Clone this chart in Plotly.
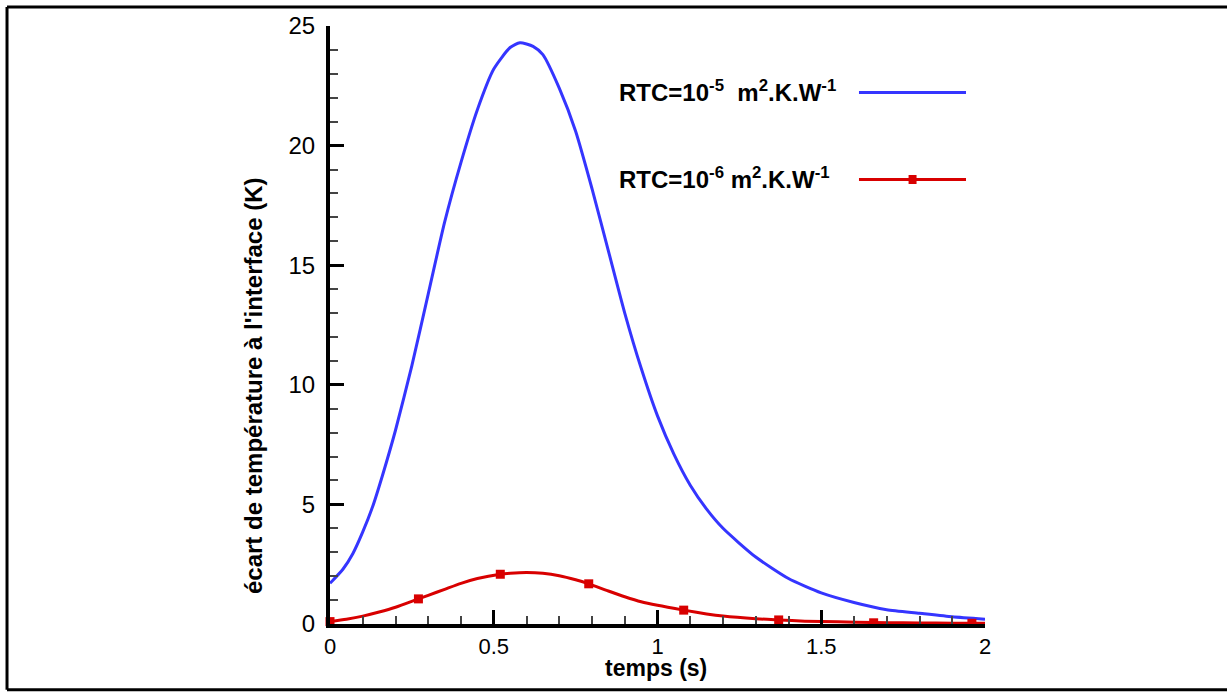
import plotly.graph_objects as go

# blue curve: RTC = 1e-5
blue_t = [0, 0.04, 0.07, 0.1, 0.13, 0.16, 0.2, 0.25, 0.3, 0.35, 0.4, 0.45, 0.5, 0.55, 0.58,
          0.62, 0.65, 0.7, 0.75, 0.8, 0.85, 0.9, 0.95, 1.0, 1.05, 1.1, 1.15, 1.2,
          1.3, 1.4, 1.5, 1.6, 1.7, 1.8, 1.9, 2.0]
blue_dT = [1.7, 2.3, 2.95, 3.85, 4.9, 6.2, 8.1, 10.8, 13.8, 16.8, 19.3, 21.5, 23.2, 24.1, 24.3,
           24.15, 23.8, 22.4, 20.6, 18.2, 15.6, 13.0, 10.7, 8.7, 7.1, 5.8, 4.8, 4.0,
           2.8, 1.9, 1.3, 0.9, 0.6, 0.45, 0.3, 0.2]

# red curve: RTC = 1e-6
red_t = [0, 0.05, 0.1, 0.15, 0.2, 0.27, 0.3, 0.35, 0.4, 0.45, 0.52, 0.55, 0.6,
         0.65, 0.7, 0.75, 0.79, 0.85, 0.9, 0.95, 1.0, 1.08, 1.15, 1.2, 1.3, 1.37,
         1.45, 1.55, 1.66, 1.75, 1.85, 1.96, 2.0]
red_dT = [0.1, 0.2, 0.33, 0.5, 0.7, 1.05, 1.2, 1.45, 1.7, 1.9, 2.08, 2.12, 2.15,
          2.12, 2.02, 1.85, 1.68, 1.38, 1.14, 0.93, 0.78, 0.58, 0.42, 0.33, 0.22, 0.17,
          0.12, 0.09, 0.06, 0.05, 0.04, 0.03, 0.03]
# symbols along the red curve
red_mark_t = [0, 0.27, 0.52, 0.79, 1.08, 1.37, 1.66, 1.96]
red_mark_dT = [0.1, 1.05, 2.08, 1.68, 0.58, 0.17, 0.05, 0.03]

labels = ["RTC=10<sup>-5</sup>\u00a0 m<sup>2</sup>.K.W<sup>-1</sup>",
          "RTC=10<sup>-6</sup> m<sup>2</sup>.K.W<sup>-1</sup>"]

BLUE = "#3535ff"
RED = "#d80000"
FONT = "Liberation Sans, Arial, sans-serif"

fig = go.Figure()
fig.add_trace(go.Scatter(x=blue_t, y=blue_dT, mode="lines",
                         line=dict(color=BLUE, width=3, shape="spline", smoothing=0.6),
                         cliponaxis=False, showlegend=False))
fig.add_trace(go.Scatter(x=red_t, y=red_dT, mode="lines",
                         line=dict(color=RED, width=3, shape="spline", smoothing=0.6),
                         cliponaxis=False, showlegend=False))
fig.add_trace(go.Scatter(x=red_mark_t, y=red_mark_dT, mode="markers",
                         marker=dict(color=RED, symbol="square", size=9),
                         cliponaxis=False, showlegend=False))

# custom legend: text on the left, sample on the right
for i, (lab, col) in enumerate(zip(labels, [BLUE, RED])):
    yy = 0.889 - i * 0.1455
    fig.add_annotation(x=0.438, y=yy + 0.003, xref="paper", yref="paper", xanchor="left", yanchor="middle",
                       text="<b>" + lab + "</b>", showarrow=False, font=dict(size=24, color="black", family=FONT))
    fig.add_shape(type="line", xref="paper", yref="paper", x0=0.8076, x1=0.971, y0=yy, y1=yy,
                  line=dict(color=col, width=3))
fig.add_shape(type="rect", xref="paper", yref="paper", x0=0.8833, x1=0.8955, y0=0.7433 - 0.0075, y1=0.7433 + 0.0075,
              fillcolor=RED, line=dict(width=0))

# axis titles
fig.add_annotation(x=0.498, y=-0.074, xref="paper", yref="paper", xanchor="center", yanchor="middle",
                   text="<b>temps (s)</b>", showarrow=False, font=dict(size=23, color="black", family=FONT))
fig.add_annotation(x=-0.116, y=0.398, xref="paper", yref="paper", xanchor="center", yanchor="middle",
                   text="<b>écart de température à l'interface (K)</b>", textangle=-90,
                   showarrow=False, font=dict(size=24, color="black", family=FONT))

# outer frame (left, top, bottom)
frame = dict(color="black", width=3)
fig.add_shape(type="line", xref="paper", yref="paper", x0=-0.4931, x1=-0.4931, y0=-0.11, y1=1.0317, line=frame)
fig.add_shape(type="line", xref="paper", yref="paper", x0=-0.4931, x1=1.4, y0=1.0317, y1=1.0317, line=frame)
fig.add_shape(type="line", xref="paper", yref="paper", x0=-0.4931, x1=1.4, y0=-0.11, y1=-0.11, line=frame)

fig.update_xaxes(range=[0, 2], tickvals=[0, 0.5, 1, 1.5, 2], ticktext=["0", "0.5", "1", "1.5", "2"],
                 showline=True, linewidth=4, linecolor="black", showgrid=False, zeroline=False,
                 ticks="inside", ticklen=14, tickwidth=3, tickcolor="black", ticklabelstandoff=0,
                 minor=dict(dtick=0.1, tick0=0, ticks="inside", ticklen=8, tickwidth=1.5, tickcolor="#444"),
                 tickfont=dict(size=22, color="black", family=FONT))
fig.update_yaxes(range=[0, 25], tickvals=[0, 5, 10, 15, 20, 25],
                 showline=True, linewidth=4, linecolor="black", showgrid=False, zeroline=False,
                 ticks="inside", ticklen=14, tickwidth=3, tickcolor="black", ticklabelstandoff=6,
                 minor=dict(dtick=1, tick0=0, ticks="inside", ticklen=8, tickwidth=1.5, tickcolor="#444"),
                 tickfont=dict(size=24, color="black", family=FONT))

fig.update_layout(width=1227, height=693, margin=dict(l=330, r=242, t=24, b=69),
                  plot_bgcolor="white", paper_bgcolor="white", showlegend=False)

fig.write_html("out.html", config={"displayModeBar": False},
               post_script="document.body.style.margin='0px';")
